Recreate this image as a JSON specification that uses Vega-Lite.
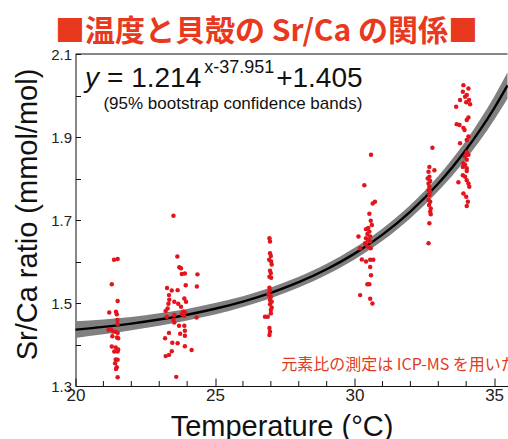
{
  "$schema": "https://vega.github.io/schema/vega-lite/v6.json",
  "width": 432,
  "height": 332,
  "autosize": {"type": "none"},
  "padding": {"left": 75.5, "top": 54, "right": 0, "bottom": 53},
  "background": "white",
  "config": {
    "view": {"stroke": null},
    "axis": {"grid": false, "domainColor": "#111", "tickColor": "#111", "labelFont": "Liberation Sans", "titleFont": "Liberation Sans", "labelColor": "#222", "titleColor": "#111", "titleFontWeight": "normal", "labelOverlap": false}
  },
  "title": {"text": "■温度と貝殻の Sr/Ca の関係■", "font": "Noto Sans CJK JP", "fontSize": 30, "fontWeight": "bold", "color": "#e8391f", "anchor": "middle", "frame": "group", "dx": -25, "offset": 0},
  "datasets": {
    "minor": [{"t": 21}, {"t": 22}, {"t": 23}, {"t": 24}, {"t": 26}, {"t": 27}, {"t": 28}, {"t": 29}, {"t": 31}, {"t": 32}, {"t": 33}, {"t": 34}],
    "fit": [
      {"t": 20, "y": 1.4358, "lo": 1.4158, "hi": 1.4558},
      {"t": 21, "y": 1.4424, "lo": 1.4244, "hi": 1.4604},
      {"t": 22, "y": 1.4504, "lo": 1.4344, "hi": 1.4664},
      {"t": 23, "y": 1.4601, "lo": 1.4451, "hi": 1.4751},
      {"t": 24, "y": 1.4718, "lo": 1.4578, "hi": 1.4858},
      {"t": 25, "y": 1.4861, "lo": 1.4721, "hi": 1.5001},
      {"t": 26, "y": 1.5035, "lo": 1.4905, "hi": 1.5165},
      {"t": 27, "y": 1.5246, "lo": 1.5116, "hi": 1.5376},
      {"t": 28, "y": 1.5502, "lo": 1.5372, "hi": 1.5632},
      {"t": 29, "y": 1.5813, "lo": 1.5683, "hi": 1.5943},
      {"t": 30, "y": 1.6190, "lo": 1.6050, "hi": 1.6330},
      {"t": 31, "y": 1.6648, "lo": 1.6498, "hi": 1.6798},
      {"t": 32, "y": 1.7204, "lo": 1.7044, "hi": 1.7364},
      {"t": 33, "y": 1.7878, "lo": 1.7698, "hi": 1.8058},
      {"t": 33.5, "y": 1.8268, "lo": 1.8068, "hi": 1.8468},
      {"t": 34, "y": 1.8698, "lo": 1.8478, "hi": 1.8918},
      {"t": 34.5, "y": 1.9171, "lo": 1.8921, "hi": 1.9421},
      {"t": 35, "y": 1.9692, "lo": 1.9412, "hi": 1.9972},
      {"t": 35.48, "y": 2.0243, "lo": 1.9923, "hi": 2.0563}
    ],
    "pts": [
      {"t": 21.38, "sr": 1.604}, {"t": 21.51, "sr": 1.606}, {"t": 21.30, "sr": 1.545}, {"t": 21.51, "sr": 1.505}, {"t": 21.21, "sr": 1.477}, {"t": 21.45, "sr": 1.479}, {"t": 21.48, "sr": 1.473}, {"t": 21.50, "sr": 1.459}, {"t": 21.51, "sr": 1.449}, {"t": 21.18, "sr": 1.435}, {"t": 21.27, "sr": 1.437}, {"t": 21.35, "sr": 1.431}, {"t": 21.44, "sr": 1.431}, {"t": 21.51, "sr": 1.428}, {"t": 21.32, "sr": 1.420}, {"t": 21.49, "sr": 1.417}, {"t": 21.53, "sr": 1.415}, {"t": 21.30, "sr": 1.395}, {"t": 21.44, "sr": 1.393}, {"t": 21.53, "sr": 1.388}, {"t": 21.39, "sr": 1.383}, {"t": 21.51, "sr": 1.383}, {"t": 21.44, "sr": 1.364}, {"t": 21.51, "sr": 1.363}, {"t": 21.42, "sr": 1.355}, {"t": 21.48, "sr": 1.345}, {"t": 21.45, "sr": 1.341}, {"t": 21.51, "sr": 1.321},
      {"t": 23.51, "sr": 1.710}, {"t": 23.65, "sr": 1.612}, {"t": 23.72, "sr": 1.586}, {"t": 23.78, "sr": 1.584}, {"t": 23.81, "sr": 1.570}, {"t": 23.92, "sr": 1.571}, {"t": 24.37, "sr": 1.569}, {"t": 23.95, "sr": 1.543}, {"t": 24.35, "sr": 1.540}, {"t": 23.28, "sr": 1.536}, {"t": 23.45, "sr": 1.530}, {"t": 23.66, "sr": 1.531}, {"t": 23.35, "sr": 1.519}, {"t": 23.36, "sr": 1.508}, {"t": 23.54, "sr": 1.503}, {"t": 23.90, "sr": 1.511}, {"t": 23.96, "sr": 1.503}, {"t": 23.33, "sr": 1.498}, {"t": 23.68, "sr": 1.498}, {"t": 23.30, "sr": 1.487}, {"t": 23.23, "sr": 1.481}, {"t": 23.78, "sr": 1.491}, {"t": 23.86, "sr": 1.479}, {"t": 23.92, "sr": 1.477}, {"t": 23.27, "sr": 1.467}, {"t": 23.54, "sr": 1.471}, {"t": 23.81, "sr": 1.473}, {"t": 23.90, "sr": 1.469}, {"t": 24.34, "sr": 1.465}, {"t": 23.51, "sr": 1.459}, {"t": 23.54, "sr": 1.453}, {"t": 23.71, "sr": 1.445}, {"t": 23.90, "sr": 1.445}, {"t": 23.92, "sr": 1.433}, {"t": 23.75, "sr": 1.426}, {"t": 23.92, "sr": 1.421}, {"t": 23.35, "sr": 1.428}, {"t": 23.21, "sr": 1.415}, {"t": 23.47, "sr": 1.404}, {"t": 23.66, "sr": 1.403}, {"t": 23.92, "sr": 1.396}, {"t": 24.16, "sr": 1.387}, {"t": 23.45, "sr": 1.384}, {"t": 23.35, "sr": 1.375}, {"t": 23.23, "sr": 1.372}, {"t": 23.61, "sr": 1.322},
      {"t": 26.95, "sr": 1.656}, {"t": 26.97, "sr": 1.648}, {"t": 26.97, "sr": 1.620}, {"t": 27.00, "sr": 1.613}, {"t": 26.94, "sr": 1.604}, {"t": 27.01, "sr": 1.600}, {"t": 27.03, "sr": 1.593}, {"t": 26.97, "sr": 1.578}, {"t": 27.00, "sr": 1.572}, {"t": 26.95, "sr": 1.563}, {"t": 27.01, "sr": 1.561}, {"t": 26.95, "sr": 1.537}, {"t": 26.97, "sr": 1.530}, {"t": 26.91, "sr": 1.523}, {"t": 26.94, "sr": 1.518}, {"t": 27.00, "sr": 1.515}, {"t": 26.97, "sr": 1.507}, {"t": 27.03, "sr": 1.503}, {"t": 26.97, "sr": 1.497}, {"t": 27.03, "sr": 1.489}, {"t": 27.00, "sr": 1.483}, {"t": 26.79, "sr": 1.467}, {"t": 26.89, "sr": 1.467}, {"t": 27.00, "sr": 1.475}, {"t": 26.95, "sr": 1.440}, {"t": 26.97, "sr": 1.431}, {"t": 26.95, "sr": 1.423},
      {"t": 30.59, "sr": 1.857}, {"t": 30.35, "sr": 1.784}, {"t": 30.65, "sr": 1.740}, {"t": 30.73, "sr": 1.744}, {"t": 30.53, "sr": 1.715}, {"t": 30.58, "sr": 1.698}, {"t": 30.62, "sr": 1.688}, {"t": 30.49, "sr": 1.681}, {"t": 30.41, "sr": 1.678}, {"t": 30.53, "sr": 1.672}, {"t": 30.46, "sr": 1.666}, {"t": 30.56, "sr": 1.660}, {"t": 30.14, "sr": 1.660}, {"t": 30.41, "sr": 1.656}, {"t": 30.49, "sr": 1.652}, {"t": 30.56, "sr": 1.648}, {"t": 30.38, "sr": 1.644}, {"t": 30.20, "sr": 1.632}, {"t": 30.46, "sr": 1.636}, {"t": 30.58, "sr": 1.632}, {"t": 30.26, "sr": 1.605}, {"t": 30.41, "sr": 1.600}, {"t": 30.56, "sr": 1.604}, {"t": 30.67, "sr": 1.604}, {"t": 30.56, "sr": 1.587}, {"t": 30.59, "sr": 1.567}, {"t": 30.46, "sr": 1.545}, {"t": 30.53, "sr": 1.545}, {"t": 30.20, "sr": 1.519}, {"t": 30.56, "sr": 1.510}, {"t": 30.64, "sr": 1.499},
      {"t": 32.79, "sr": 1.874}, {"t": 32.68, "sr": 1.828}, {"t": 32.86, "sr": 1.820}, {"t": 32.65, "sr": 1.816}, {"t": 32.68, "sr": 1.804}, {"t": 32.62, "sr": 1.800}, {"t": 32.71, "sr": 1.794}, {"t": 32.65, "sr": 1.788}, {"t": 32.68, "sr": 1.780}, {"t": 32.65, "sr": 1.772}, {"t": 32.71, "sr": 1.768}, {"t": 32.68, "sr": 1.760}, {"t": 32.65, "sr": 1.748}, {"t": 32.71, "sr": 1.744}, {"t": 32.67, "sr": 1.736}, {"t": 32.73, "sr": 1.728}, {"t": 32.71, "sr": 1.720}, {"t": 32.73, "sr": 1.714}, {"t": 32.68, "sr": 1.692}, {"t": 32.65, "sr": 1.644},
      {"t": 33.90, "sr": 2.025}, {"t": 34.08, "sr": 2.017}, {"t": 33.88, "sr": 2.009}, {"t": 34.02, "sr": 2.001}, {"t": 33.96, "sr": 1.997}, {"t": 33.78, "sr": 1.989}, {"t": 34.10, "sr": 1.989}, {"t": 34.00, "sr": 1.984}, {"t": 34.14, "sr": 1.979}, {"t": 33.64, "sr": 1.973}, {"t": 34.08, "sr": 1.947}, {"t": 34.02, "sr": 1.941}, {"t": 33.66, "sr": 1.931}, {"t": 33.76, "sr": 1.929}, {"t": 33.90, "sr": 1.922}, {"t": 33.94, "sr": 1.917}, {"t": 34.08, "sr": 1.901}, {"t": 34.02, "sr": 1.893}, {"t": 33.78, "sr": 1.885}, {"t": 34.02, "sr": 1.863}, {"t": 34.08, "sr": 1.857}, {"t": 33.96, "sr": 1.853}, {"t": 34.02, "sr": 1.845}, {"t": 33.90, "sr": 1.837}, {"t": 33.96, "sr": 1.833}, {"t": 33.88, "sr": 1.828}, {"t": 34.02, "sr": 1.825}, {"t": 34.02, "sr": 1.818}, {"t": 33.88, "sr": 1.808}, {"t": 33.96, "sr": 1.804}, {"t": 34.02, "sr": 1.796}, {"t": 33.72, "sr": 1.791}, {"t": 34.08, "sr": 1.788}, {"t": 34.11, "sr": 1.780}, {"t": 33.90, "sr": 1.764}, {"t": 34.00, "sr": 1.756}, {"t": 34.06, "sr": 1.744}, {"t": 34.02, "sr": 1.734}
    ]
  },
  "layer": [
    {
      "data": {"name": "fit"},
      "mark": {"type": "area", "color": "#808080", "interpolate": "monotone"},
      "encoding": {
        "x": {"field": "t", "type": "quantitative", "scale": {"domain": [20, 35.48], "nice": false, "zero": false},
          "axis": {"values": [20, 25, 30, 35], "format": "d", "labelOverlap": false, "labelFlush": false, "tickSize": -8, "labelFontSize": 17, "labelPadding": 9, "title": "Temperature (°C)", "titleFontSize": 29, "titleX": 206, "titleY": 49, "titleAlign": "center", "titleBaseline": "alphabetic"}},
        "y": {"field": "lo", "type": "quantitative", "scale": {"domain": [1.3, 2.1], "nice": false, "zero": false},
          "axis": {"values": [1.3, 1.4, 1.5, 1.6, 1.7, 1.8, 1.9, 2.0, 2.1], "format": ".1f", "labelExpr": "round(datum.value * 10) % 2 === 1 ? datum.label : ''", "labelOverlap": false, "tickSize": -5, "labelFontSize": 15, "labelPadding": 9, "title": "Sr/Ca ratio (mmol/mol)", "titleFontSize": 29, "titleX": -39.5, "titleY": 160, "titleAngle": 270, "titleAlign": "center", "titleBaseline": "alphabetic"}},
        "y2": {"field": "hi"}
      }
    },
    {
      "data": {"name": "fit"},
      "mark": {"type": "line", "color": "#000000", "strokeWidth": 2.4, "interpolate": "monotone"},
      "encoding": {"x": {"field": "t", "type": "quantitative"}, "y": {"field": "y", "type": "quantitative"}}
    },
    {
      "data": {"name": "pts"},
      "mark": {"type": "circle", "color": "#e3141c", "opacity": 1, "size": 20},
      "encoding": {"x": {"field": "t", "type": "quantitative"}, "y": {"field": "sr", "type": "quantitative"}}
    },
    {
      "data": {"name": "minor"},
      "mark": {"type": "tick", "orient": "vertical", "size": 5, "thickness": 1, "color": "#111111", "opacity": 1, "yOffset": -2.5},
      "encoding": {"x": {"field": "t", "type": "quantitative"}, "y": {"datum": 1.3}}
    },
    {
      "data": {"values": [{}]},
      "mark": {"type": "rule", "color": "#111111", "strokeWidth": 1},
      "encoding": {"y": {"datum": 2.1}}
    },
    {
      "data": {"values": [{"s": "y"}]},
      "mark": {"type": "text", "font": "Liberation Sans", "fontStyle": "italic", "fontSize": 28, "align": "left", "baseline": "alphabetic", "color": "#111111"},
      "encoding": {"x": {"datum": 20.34}, "y": {"datum": 2.0197}, "text": {"field": "s"}}
    },
    {
      "data": {"values": [{"s": "= 1.214"}]},
      "mark": {"type": "text", "font": "Liberation Sans", "fontSize": 28, "align": "left", "baseline": "alphabetic", "color": "#111111"},
      "encoding": {"x": {"datum": 21.13}, "y": {"datum": 2.0197}, "text": {"field": "s"}}
    },
    {
      "data": {"values": [{"s": "x-37.951"}]},
      "mark": {"type": "text", "font": "Liberation Sans", "fontSize": 18, "align": "left", "baseline": "alphabetic", "color": "#111111"},
      "encoding": {"x": {"datum": 24.61}, "y": {"datum": 2.054}, "text": {"field": "s"}}
    },
    {
      "data": {"values": [{"s": "+1.405"}]},
      "mark": {"type": "text", "font": "Liberation Sans", "fontSize": 28, "align": "left", "baseline": "alphabetic", "color": "#111111"},
      "encoding": {"x": {"datum": 27.19}, "y": {"datum": 2.0197}, "text": {"field": "s"}}
    },
    {
      "data": {"values": [{"s": "(95% bootstrap confidence bands)"}]},
      "mark": {"type": "text", "font": "Liberation Sans", "fontSize": 17, "align": "left", "baseline": "alphabetic", "color": "#111111"},
      "encoding": {"x": {"datum": 21.0}, "y": {"datum": 1.967}, "text": {"field": "s"}}
    },
    {
      "data": {"values": [{"s": "元素比の測定は ICP-MS を用いた"}]},
      "mark": {"type": "text", "font": "Noto Sans CJK JP", "fontSize": 16, "align": "left", "baseline": "alphabetic", "color": "#e23b23"},
      "encoding": {"x": {"datum": 27.37}, "y": {"datum": 1.339}, "text": {"field": "s"}}
    }
  ]
}
